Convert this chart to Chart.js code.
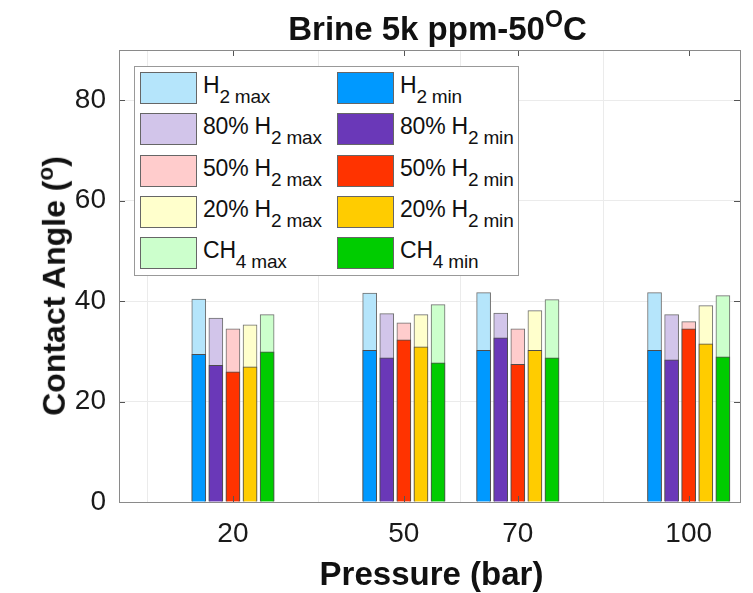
<!DOCTYPE html>
<html>
<head>
<meta charset="utf-8">
<script src="https://cdn.jsdelivr.net/npm/chart.js@4.4.0/dist/chart.umd.min.js"></script>
<style>
  body { margin: 0; background: #fff; font-family: "Liberation Sans", Arial, sans-serif; }
  #wrap { position: relative; width: 753px; height: 593px; }
  canvas { position: absolute; left: 0; top: 0; }
  .lbl { position: absolute; color: #111; white-space: nowrap; }
  #title { left: 0; width: 753px; top: 6px; text-align: center; font-weight: bold; font-size: 33px; padding-left: 122px; box-sizing: border-box; }
  #xTitle { left: 119px; width: 621px; top: 555px; text-align: center; font-weight: bold; font-size: 33px; padding-left: 4px; box-sizing: border-box; }
  #yTitle { left: 53px; top: 286px; font-weight: bold; font-size: 32px; transform: translate(-50%, -50%) rotate(-90deg); }
  sup { font-size: 70%; vertical-align: 0.55em; }
  #legend { position: absolute; left: 134px; top: 66px; width: 385px; height: 210px; border: 1px solid #999; background: #fff; box-sizing: border-box; }
  .sw { position: absolute; width: 57px; height: 32px; border: 1px solid #666; box-sizing: border-box; }
  .lt { position: absolute; font-size: 23px; color: #111; white-space: nowrap; letter-spacing: -0.2px; }
  .lt sub { font-size: 19px; vertical-align: -0.5em; }
</style>
</head>
<body>
<div id="wrap">
  <canvas id="chart" width="753" height="593"></canvas>
  <div id="title" class="lbl">Brine 5k ppm-50<sup>O</sup>C</div>
  <div id="xTitle" class="lbl">Pressure (bar)</div>
  <div id="yTitle" class="lbl">Contact Angle (<sup>o</sup>)</div>
  <div id="legend"></div>
</div>
<script>
// pressures (bar)
const pressures = [20, 50, 70, 100];
const yTicks = [0, 20, 40, 60, 80];

// series names and subscript digit
const seriesNames = ['H', '80% H', '50% H', '20% H', 'CH'];
const seriesSub = ['2', '2', '2', '2', '4'];

// contact angles (deg)
const h2Max = [40.4, 41.6, 41.7, 41.7];
const h2Min = [29.4, 30.2, 30.2, 30.2];
const h80Max = [36.6, 37.5, 37.6, 37.3];
const h80Min = [27.2, 28.7, 32.7, 28.3];
const h50Max = [34.5, 35.7, 34.5, 35.9];
const h50Min = [25.9, 32.3, 27.4, 34.5];
const h20Max = [35.3, 37.3, 38.1, 39.1];
const h20Min = [26.9, 30.9, 30.2, 31.5];
const ch4Max = [37.3, 39.3, 40.3, 41.1];
const ch4Min = [29.9, 27.7, 28.7, 28.9];

const maxSeries = [h2Max, h80Max, h50Max, h20Max, ch4Max];
const minSeries = [h2Min, h80Min, h50Min, h20Min, ch4Min];

const maxColors = ['#b5e5fb', '#d2c5ea', '#ffcccc', '#ffffcc', '#ccffcc'];
const minColors = ['#0099ff', '#6a38b8', '#ff3300', '#ffcc00', '#00cc00'];

const barShift = [-6, -3, 0, 3, 6]; // x offset inside a group, in bar units

const datasets = [];
seriesNames.forEach((name, i) => {
    datasets.push({
        label: name + seriesSub[i] + ' min',
        data: pressures.map((p, j) => ({ x: p + barShift[i], y: minSeries[i][j] })),
        backgroundColor: minColors[i],
        borderColor: '#4d4d4d',
        borderWidth: 1,
        order: 0
    });
    datasets.push({
        label: name + seriesSub[i] + ' max',
        data: pressures.map((p, j) => ({ x: p + barShift[i], y: maxSeries[i][j] })),
        backgroundColor: maxColors[i],
        borderColor: '#6e6e6e',
        borderWidth: 1,
        order: 1
    });
});

// box and inward tick marks like the matlab axes
const boxPlugin = {
    id: 'box',
    afterDatasetsDraw(chart) {
        const { ctx, chartArea: a, scales } = chart;
        ctx.save();
        ctx.strokeStyle = '#555';
        ctx.lineWidth = 1;
        ctx.beginPath();
        scales.x.ticks.forEach(t => {
            const px = Math.round(scales.x.getPixelForValue(t.value)) + 0.5;
            ctx.moveTo(px, a.bottom); ctx.lineTo(px, a.bottom - 6);
            ctx.moveTo(px, a.top); ctx.lineTo(px, a.top + 6);
        });
        scales.y.ticks.forEach(t => {
            const py = Math.round(scales.y.getPixelForValue(t.value)) + 0.5;
            ctx.moveTo(a.left, py); ctx.lineTo(a.left + 6, py);
            ctx.moveTo(a.right, py); ctx.lineTo(a.right - 6, py);
        });
        ctx.stroke();
        ctx.strokeStyle = '#8a8a8a';
        ctx.strokeRect(Math.round(a.left) + 0.5, Math.round(a.top) + 0.5,
            Math.round(a.right - a.left), Math.round(a.bottom - a.top));
        ctx.restore();
    }
};

new Chart(document.getElementById('chart'), {
    type: 'bar',
    data: { datasets },
    options: {
        responsive: false,
        animation: false,
        layout: { padding: { top: 50, right: 13, bottom: 0, left: 0 } },
        datasets: { bar: { grouped: false, barThickness: 14 } },
        plugins: { legend: { display: false }, tooltip: { enabled: false } },
        scales: {
            x: {
                type: 'linear',
                min: 0,
                max: 109,
                offset: false,
                afterBuildTicks: s => { s.ticks = pressures.map(v => ({ value: v })); },
                afterFit: s => { s.height = 91; },
                grid: { color: '#ebebeb', drawTicks: false },
                border: { display: false },
                ticks: { padding: 15, color: '#1a1a1a', font: { family: 'Liberation Sans', size: 28 } }
            },
            y: {
                min: 0,
                max: 90,
                afterBuildTicks: s => { s.ticks = yTicks.map(v => ({ value: v })); },
                afterFit: s => { s.width = 119; },
                grid: { color: '#ebebeb', drawTicks: false },
                border: { display: false },
                ticks: { padding: 13, color: '#1a1a1a', font: { family: 'Liberation Sans', size: 28 } }
            }
        }
    },
    plugins: [boxPlugin]
});

// legend: two columns, max on the left, min on the right
const legend = document.getElementById('legend');
seriesNames.forEach((name, i) => {
    const top = 5 + i * 41.3;
    [[maxColors[i], 'max', 5], [minColors[i], 'min', 202]].forEach(([col, kind, left]) => {
        const sw = document.createElement('div');
        sw.className = 'sw';
        sw.style.left = left + 'px';
        sw.style.top = top + 'px';
        sw.style.background = col;
        legend.appendChild(sw);
        const tx = document.createElement('div');
        tx.className = 'lt';
        tx.style.left = (left + 63) + 'px';
        tx.style.top = top + 'px';
        tx.innerHTML = name + '<sub>' + seriesSub[i] + ' ' + kind + '</sub>';
        legend.appendChild(tx);
    });
});
</script>
</body>
</html>
